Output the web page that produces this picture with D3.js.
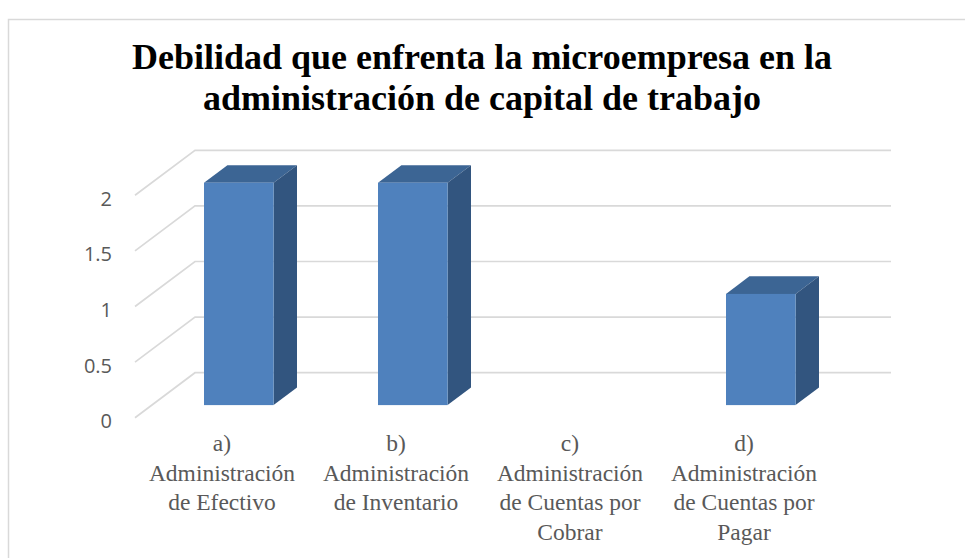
<!DOCTYPE html>
<html>
<head>
<meta charset="utf-8">
<script src="https://cdn.jsdelivr.net/npm/d3@7/dist/d3.min.js"></script>
<style>
  body { margin: 0; background: #fff; }
</style>
</head>
<body>
<div id="chart"></div>
<script>
// chart data
const categories = ["a)", "b)", "c)", "d)"];
const categoryLines = [
    ["a)", "Administración", "de Efectivo"],
    ["b)", "Administración", "de Inventario"],
    ["c)", "Administración", "de Cuentas por", "Cobrar"],
    ["d)", "Administración", "de Cuentas por", "Pagar"]
];
const values = [2, 2, 0, 1];
const yTicks = [0, 0.5, 1, 1.5, 2];
const titleLines = ["Debilidad que enfrenta la microempresa en la", "administración de capital de trabajo"];

var width = 965;
var height = 558;

var svg = d3.select("#chart")
    .append("svg")
    .attr("width", width)
    .attr("height", height);

// chart area border (runs off the right and bottom edge)
svg.append("rect")
    .attr("x", 8.5)
    .attr("y", 19.5)
    .attr("width", 1000)
    .attr("height", 600)
    .attr("fill", "none")
    .attr("stroke", "#d9d9d9")
    .attr("stroke-width", 1.5);

// title
svg.append("text")
    .attr("text-anchor", "middle")
    .attr("font-family", "'Liberation Serif', 'Times New Roman', serif")
    .attr("font-weight", "bold")
    .attr("font-size", "36px")
    .attr("fill", "#000")
    .selectAll("tspan")
    .data(titleLines)
    .enter()
    .append("tspan")
    .attr("x", 482)
    .attr("y", (d, i) => 69 + i * 41)
    .text(d => d);

// 3d depth of the floor / walls
const dx = 60, dy = 45;
// bar sits between these depth fractions
const f0 = 0.28, f1 = 0.67;

const x = d3.scaleBand()
    .domain(categories)
    .range([135, 831])
    .paddingInner(0.6)
    .paddingOuter(0.3);

const y = d3.scaleLinear()
    .domain([0, 2])
    .range([417.7, 195.3]);

const backRight = x.range()[1] + dx;

// gridlines: diagonal on the side wall, then across the back wall
svg.append("g")
    .selectAll("path")
    .data(yTicks)
    .enter()
    .append("path")
    .attr("d", t => "M" + x.range()[0] + "," + y(t) +
        "L" + (x.range()[0] + dx) + "," + (y(t) - dy) +
        "L" + backRight + "," + (y(t) - dy))
    .attr("fill", "none")
    .attr("stroke", "#d9d9d9")
    .attr("stroke-width", 1.7);

// y axis labels
svg.append("g")
    .selectAll("text")
    .data(yTicks)
    .enter()
    .append("text")
    .attr("x", 112)
    .attr("y", t => y(t) + 3)
    .attr("dominant-baseline", "central")
    .attr("text-anchor", "end")
    .attr("font-family", "'Open Sans', sans-serif")
    .attr("font-size", "20px")
    .attr("fill", "#595959")
    .text(t => t);

// bars
const bw = x.bandwidth();
const ddx = (f1 - f0) * dx, ddy = (f1 - f0) * dy;
const barData = categories.map((c, i) => ({ cat: c, value: values[i] })).filter(d => d.value > 0);

const bars = svg.append("g")
    .selectAll("g")
    .data(barData)
    .enter()
    .append("g");

function geom(d) {
    let x0 = x(d.cat) + f0 * dx;
    let x1 = x0 + bw;
    let yb = y(0) - f0 * dy;
    let yt = y(d.value) - f0 * dy;
    return { x0, x1, yb, yt };
}

// top face
bars.append("path")
    .attr("d", d => {
        let g = geom(d);
        return "M" + g.x0 + "," + g.yt + "L" + (g.x0 + ddx) + "," + (g.yt - ddy) +
            "L" + (g.x1 + ddx) + "," + (g.yt - ddy) + "L" + g.x1 + "," + g.yt + "Z";
    })
    .attr("fill", "#3c6594");

// side face
bars.append("path")
    .attr("d", d => {
        let g = geom(d);
        return "M" + g.x1 + "," + g.yt + "L" + (g.x1 + ddx) + "," + (g.yt - ddy) +
            "L" + (g.x1 + ddx) + "," + (g.yb - ddy) + "L" + g.x1 + "," + g.yb + "Z";
    })
    .attr("fill", "#32557f");

// front face
bars.append("rect")
    .attr("x", d => geom(d).x0)
    .attr("y", d => geom(d).yt)
    .attr("width", bw)
    .attr("height", d => geom(d).yb - geom(d).yt)
    .attr("fill", "#4f81bd");

// category labels
const labels = svg.append("g")
    .selectAll("text")
    .data(categories)
    .enter()
    .append("text")
    .attr("text-anchor", "middle")
    .attr("font-family", "'Liberation Serif', 'Times New Roman', serif")
    .attr("font-size", "23.5px")
    .attr("fill", "#595959");

labels.selectAll("tspan")
    .data((c, i) => categoryLines[i].map(line => ({ cat: c, line: line })))
    .enter()
    .append("tspan")
    .attr("x", d => x(d.cat) + bw / 2)
    .attr("y", (d, j) => 451 + j * 29.5)
    .text(d => d.line);
</script>
</body>
</html>
